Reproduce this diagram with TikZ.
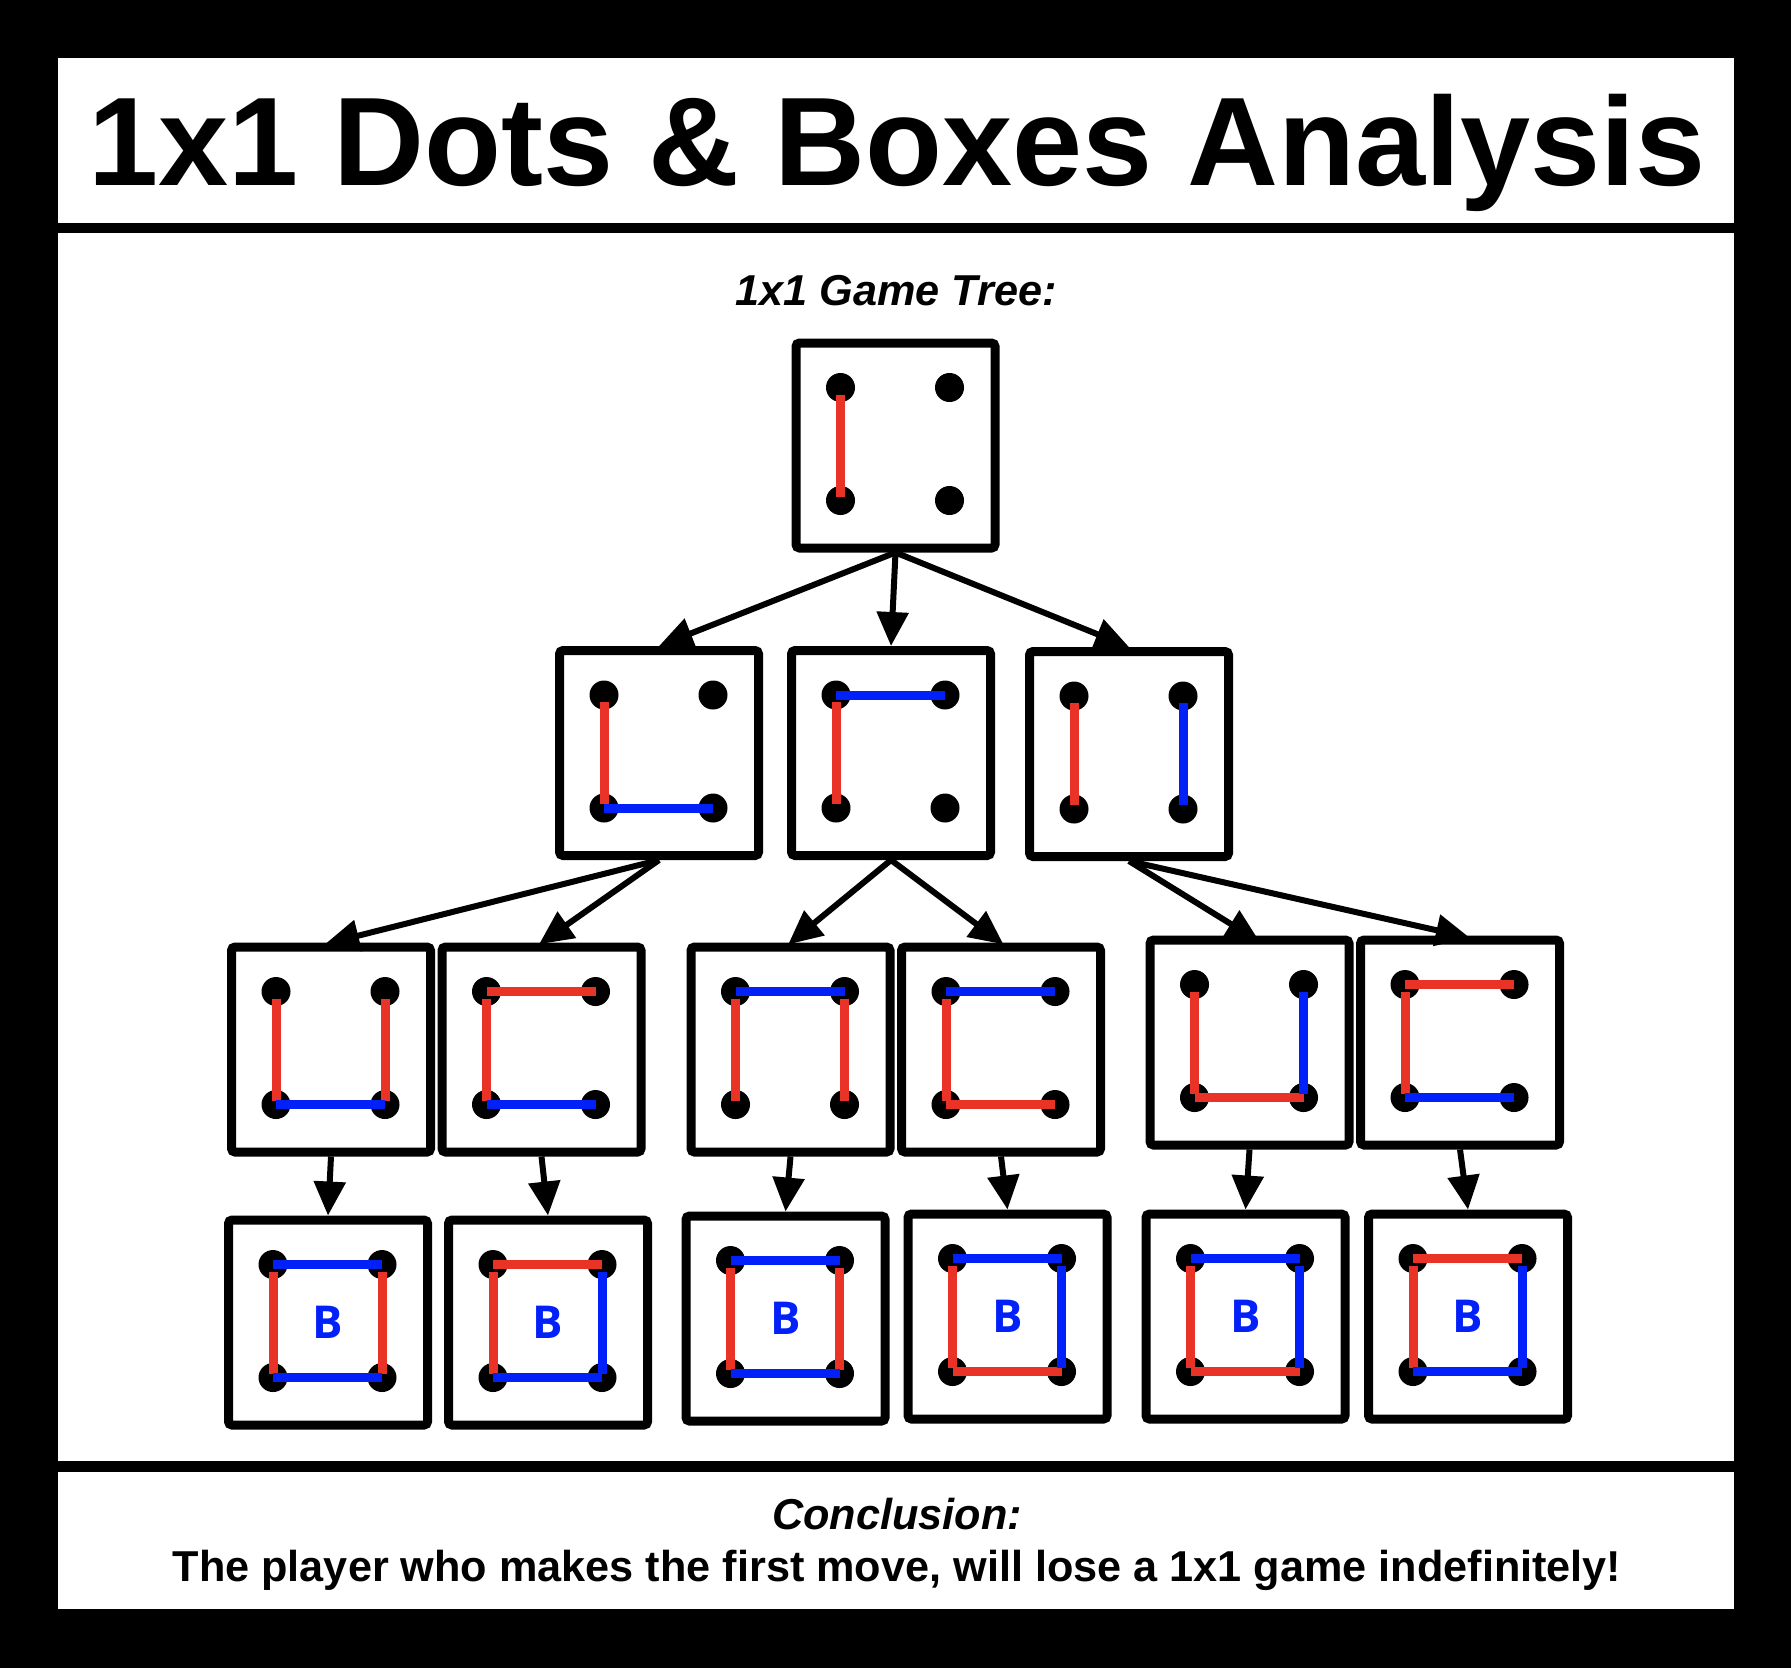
\documentclass[tikz,border=0pt]{standalone}
\usepackage{fontspec}
\setmainfont{Liberation Sans}
\newfontfamily\markfont{Open Sans}
\usepackage{xcolor}
\usepackage{tikz}
\usetikzlibrary{arrows.meta}
\definecolor{movered}{RGB}{233,51,38}
\definecolor{moveblue}{RGB}{2,32,248}

\begin{document}
\begin{tikzpicture}[
    board/.style={rectangle, draw=black, fill=white, line width=0.09cm, rounded corners=1pt, minimum width=1.99cm, minimum height=2.05cm, inner sep=0pt},
    redv/.style={draw=movered, line width=0.09cm, shorten <=0.07cm, shorten >=0.04cm},
    redh/.style={draw=movered, line width=0.09cm},
    bluev/.style={draw=moveblue, line width=0.09cm, shorten <=0.07cm, shorten >=0.04cm},
    blueh/.style={draw=moveblue, line width=0.09cm},
    move/.style={draw=black, line width=0.06cm, -{Triangle[length=0.34cm, width=0.31cm]}},
    boxmark/.style={font=\markfont\bfseries\fontsize{12.9pt}{14pt}\selectfont, text=moveblue, inner sep=0pt}
]
    \useasboundingbox (0,0) rectangle (17.91,-16.68);

    % Frame and panels
    \fill[black] (0,0) rectangle (17.91,-16.68);
    \fill[white] (0.58,-0.58) rectangle (17.34,-2.23);
    \fill[white] (0.58,-2.33) rectangle (17.34,-14.61);
    \fill[white] (0.58,-14.72) rectangle (17.34,-16.09);

    % Headings
    \node[anchor=base, font=\bfseries\fontsize{35.85pt}{40pt}\selectfont] (TITLE) at (8.97,-1.857) {1x1 Dots \& Boxes Analysis};
    \node[anchor=base, font=\bfseries\itshape\fontsize{12.3pt}{14pt}\selectfont] (TREE) at (8.96,-3.05) {1x1 Game Tree:};

    % Boards with their four dots
    \foreach \n/\x/\y in {ROOT/8.955/-4.455,
                          S1/6.59/-7.53, S2/8.91/-7.53, S3/11.29/-7.54,
                          S1A/3.31/-10.495, S1B/5.415/-10.495, S2A/7.905/-10.495, S2B/10.01/-10.495, S3A/12.495/-10.425, S3B/14.60/-10.425,
                          F1A/3.28/-13.225, F1B/5.48/-13.225, F2A/7.855/-13.185, F2B/10.075/-13.165, F3A/12.455/-13.165, F3B/14.68/-13.165} {
        \node[board] (\n) at (\x,\y) {};
        \coordinate (\n-tl) at ([shift={(-0.55,0.58)}]\n.center);
        \coordinate (\n-tr) at ([shift={(0.54,0.58)}]\n.center);
        \coordinate (\n-bl) at ([shift={(-0.55,-0.55)}]\n.center);
        \coordinate (\n-br) at ([shift={(0.54,-0.55)}]\n.center);
        \foreach \c in {tl,tr,bl,br} \fill[black] (\n-\c) circle (0.145cm);
    }

    % First move
    \draw[redv] (ROOT-tl) -- (ROOT-bl);

    % Second move
    \draw[redv] (S1-tl) -- (S1-bl); \draw[blueh] (S1-bl) -- (S1-br);
    \draw[redv] (S2-tl) -- (S2-bl); \draw[blueh] (S2-tl) -- (S2-tr);
    \draw[redv] (S3-tl) -- (S3-bl); \draw[bluev] (S3-tr) -- (S3-br);

    % Third move
    \draw[redv] (S1A-tl) -- (S1A-bl); \draw[redv] (S1A-tr) -- (S1A-br); \draw[blueh] (S1A-bl) -- (S1A-br);
    \draw[redv] (S1B-tl) -- (S1B-bl); \draw[redh] (S1B-tl) -- (S1B-tr); \draw[blueh] (S1B-bl) -- (S1B-br);
    \draw[redv] (S2A-tl) -- (S2A-bl); \draw[redv] (S2A-tr) -- (S2A-br); \draw[blueh] (S2A-tl) -- (S2A-tr);
    \draw[redv] (S2B-tl) -- (S2B-bl); \draw[blueh] (S2B-tl) -- (S2B-tr); \draw[redh] (S2B-bl) -- (S2B-br);
    \draw[redv] (S3A-tl) -- (S3A-bl); \draw[redh] (S3A-bl) -- (S3A-br); \draw[bluev] (S3A-tr) -- (S3A-br);
    \draw[redv] (S3B-tl) -- (S3B-bl); \draw[redh] (S3B-tl) -- (S3B-tr); \draw[blueh] (S3B-bl) -- (S3B-br);

    % Last move, box closed by B
    \draw[redv] (F1A-tl) -- (F1A-bl); \draw[redv] (F1A-tr) -- (F1A-br); \draw[blueh] (F1A-tl) -- (F1A-tr); \draw[blueh] (F1A-bl) -- (F1A-br);
    \draw[redv] (F1B-tl) -- (F1B-bl); \draw[redh] (F1B-tl) -- (F1B-tr); \draw[bluev] (F1B-tr) -- (F1B-br); \draw[blueh] (F1B-bl) -- (F1B-br);
    \draw[redv] (F2A-tl) -- (F2A-bl); \draw[redv] (F2A-tr) -- (F2A-br); \draw[blueh] (F2A-tl) -- (F2A-tr); \draw[blueh] (F2A-bl) -- (F2A-br);
    \draw[redv] (F2B-tl) -- (F2B-bl); \draw[redh] (F2B-bl) -- (F2B-br); \draw[blueh] (F2B-tl) -- (F2B-tr); \draw[bluev] (F2B-tr) -- (F2B-br);
    \draw[redv] (F3A-tl) -- (F3A-bl); \draw[redh] (F3A-bl) -- (F3A-br); \draw[blueh] (F3A-tl) -- (F3A-tr); \draw[bluev] (F3A-tr) -- (F3A-br);
    \draw[redv] (F3B-tl) -- (F3B-bl); \draw[redh] (F3B-tl) -- (F3B-tr); \draw[bluev] (F3B-tr) -- (F3B-br); \draw[blueh] (F3B-bl) -- (F3B-br);
    \foreach \n in {F1A,F1B,F2A,F2B,F3A,F3B} \node[boxmark] (\n-B) at (\n) {B};

    % Tree arrows
    \draw[move] (ROOT.south) -- (S1.north);
    \draw[move] (ROOT.south) -- (S2.north);
    \draw[move] (ROOT.south) -- (S3.north);
    \draw[move, shorten >=-0.06cm] (S1.south) -- (S1A.north);
    \draw[move, shorten >=-0.03cm] (S1.south) -- (S1B.north);
    \draw[move, shorten >=-0.03cm] (S2.south) -- (S2A.north);
    \draw[move, shorten >=-0.03cm] (S2.south) -- (S2B.north);
    \draw[move, shorten >=-0.12cm] (S3.south) -- (S3A.north);
    \draw[move, shorten >=-0.1cm] (S3.south) -- (S3B.north);
    \draw[move] (S1A.south) -- (F1A.north);
    \draw[move] (S1B.south) -- (F1B.north);
    \draw[move] (S2A.south) -- (F2A.north);
    \draw[move] (S2B.south) -- (F2B.north);
    \draw[move] (S3A.south) -- (F3A.north);
    \draw[move] (S3B.south) -- (F3B.north);

    % Conclusion
    \node[anchor=base, font=\bfseries\itshape\fontsize{12.3pt}{14pt}\selectfont] (CONCL) at (8.97,-15.293) {Conclusion:};
    \node[anchor=base, font=\bfseries\fontsize{12.3pt}{14pt}\selectfont] (VERDICT) at (8.97,-15.817) {The player who makes the first move, will lose a 1x1 game indefinitely!};
\end{tikzpicture}
\end{document}
